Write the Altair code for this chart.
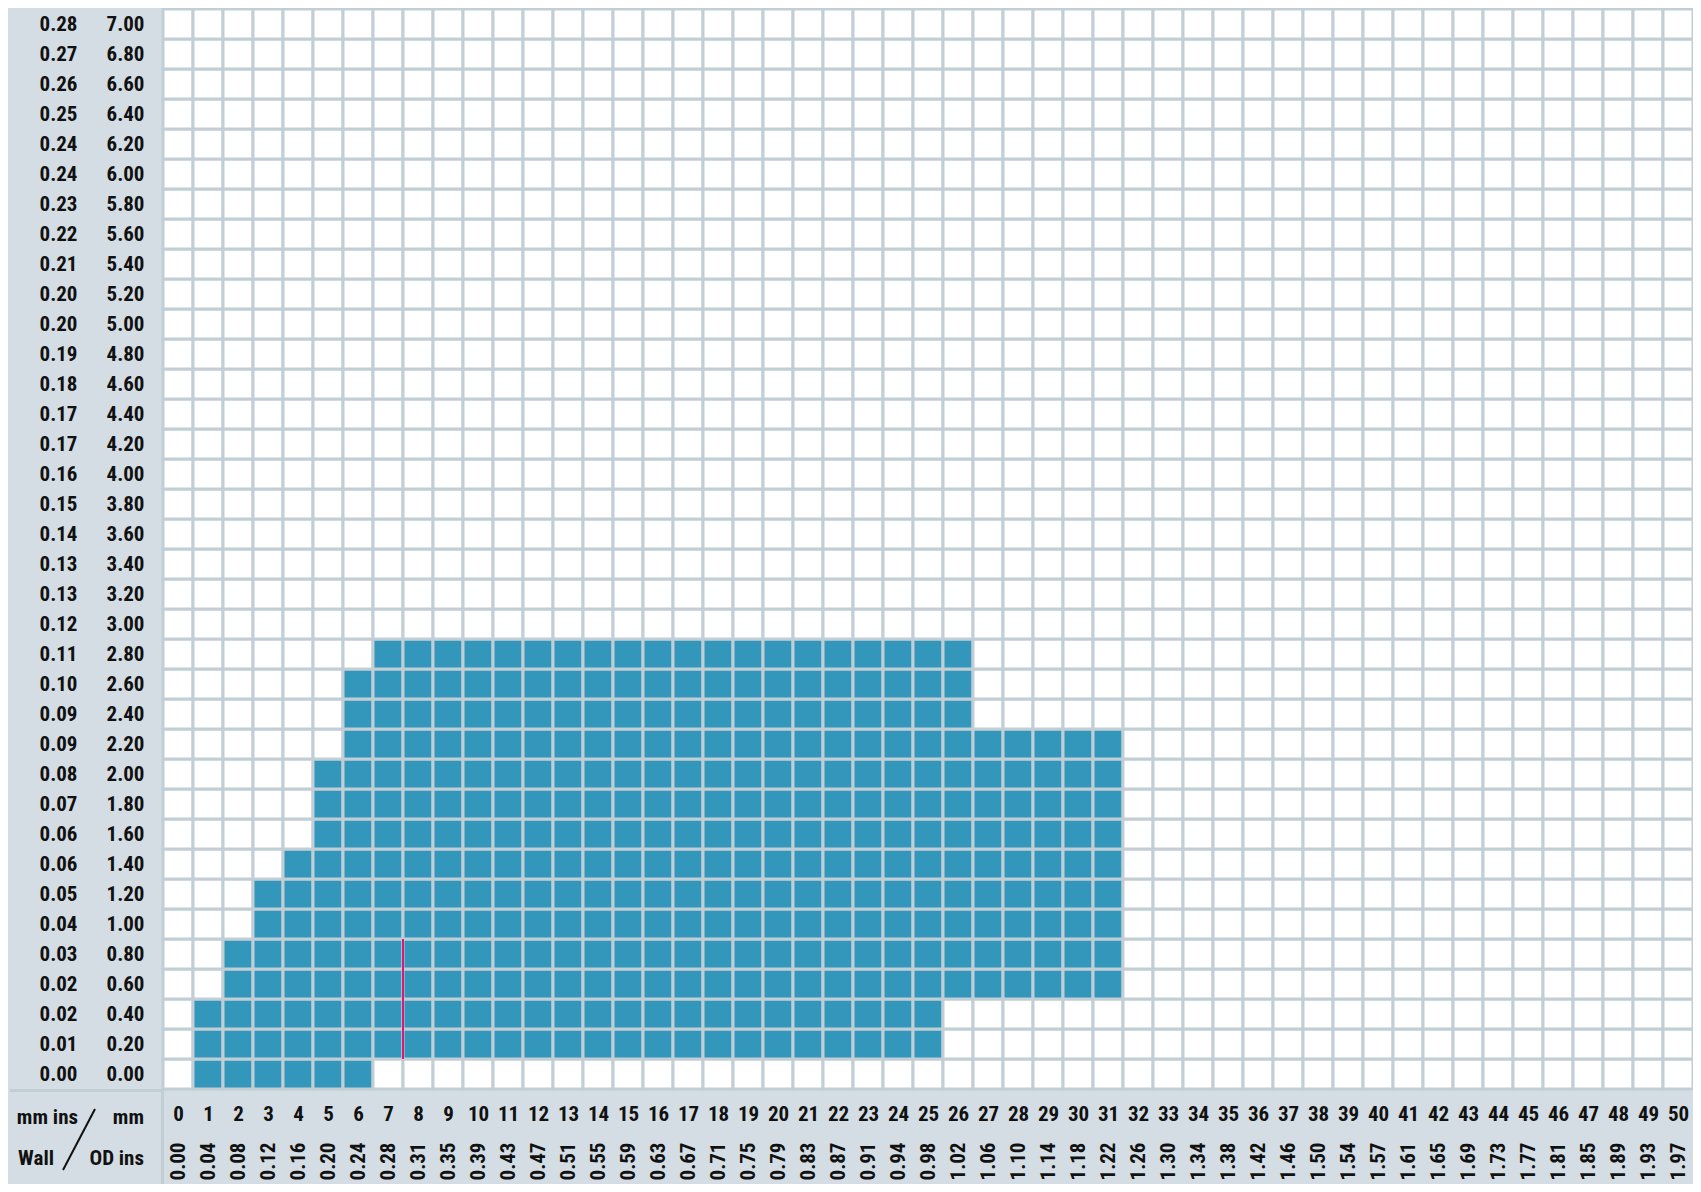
import json
import altair as alt
import pandas as pd

# ---- data ----
od_mm_labels = [str(i) for i in range(51)]
od_ins_labels = ["0.00", "0.04", "0.08", "0.12", "0.16", "0.20", "0.24", "0.28", "0.31", "0.35",
                 "0.39", "0.43", "0.47", "0.51", "0.55", "0.59", "0.63", "0.67", "0.71", "0.75",
                 "0.79", "0.83", "0.87", "0.91", "0.94", "0.98", "1.02", "1.06", "1.10", "1.14",
                 "1.18", "1.22", "1.26", "1.30", "1.34", "1.38", "1.42", "1.46", "1.50", "1.54",
                 "1.57", "1.61", "1.65", "1.69", "1.73", "1.77", "1.81", "1.85", "1.89", "1.93",
                 "1.97"]
# wall labels, bottom to top
wall_mm_labels = ["0.00", "0.20", "0.40", "0.60", "0.80", "1.00", "1.20", "1.40", "1.60", "1.80",
                  "2.00", "2.20", "2.40", "2.60", "2.80", "3.00", "3.20", "3.40", "3.60", "3.80",
                  "4.00", "4.20", "4.40", "4.60", "4.80", "5.00", "5.20", "5.40", "5.60", "5.80",
                  "6.00", "6.20", "6.40", "6.60", "6.80", "7.00"]
wall_ins_labels = ["0.00", "0.01", "0.02", "0.02", "0.03", "0.04", "0.05", "0.06", "0.06", "0.07",
                   "0.08", "0.09", "0.09", "0.10", "0.11", "0.12", "0.13", "0.13", "0.14", "0.15",
                   "0.16", "0.17", "0.17", "0.18", "0.19", "0.20", "0.20", "0.21", "0.22", "0.23",
                   "0.24", "0.24", "0.25", "0.26", "0.27", "0.28"]
# filled range (first OD column, last OD column) for each wall row from the bottom
fill_rows = [0, 1, 2, 3, 4, 5, 6, 7, 8, 9, 10, 11, 12, 13, 14]
fill_first = [1, 1, 1, 2, 2, 3, 3, 4, 5, 5, 5, 6, 6, 6, 7]
fill_last = [6, 25, 25, 31, 31, 31, 31, 31, 31, 31, 31, 31, 26, 26, 26]
# red marker line: OD boundary and wall rows it spans
marker_od = [8]
marker_wall_from = [1]
marker_wall_to = [5]

# ---- build tables ----
ranges = {r: (a, b) for r, a, b in zip(fill_rows, fill_first, fill_last)}
rows = []
for r in range(len(wall_mm_labels)):
    for c in range(len(od_mm_labels)):
        a, b = ranges.get(r, (None, None))
        filled = a is not None and a <= c <= b
        rows.append({"x0": c, "x1": c + 1, "y0": r, "y1": r + 1,
                     "state": "on" if filled else "off"})
cells = pd.DataFrame(rows)
marker = pd.DataFrame({"mx": marker_od, "my0": marker_wall_from, "my1": marker_wall_to})

NC = len(od_mm_labels)
NR = len(wall_mm_labels)
W = 1530
H = 1080

BG = "#d4dde3"
GRID = "#c2ced6"
BLUE = "#3396bb"
TXT = "#111111"
FONT = "Liberation Sans Narrow, Arial Narrow, Roboto Condensed, Liberation Sans, sans-serif"
FS = 21

xs = alt.Scale(domain=[0, NC], nice=False, zero=False)
ys = alt.Scale(domain=[0, NR], nice=False, zero=False)

common = dict(ticks=False, domain=False, grid=False, title=None, labelFont=FONT,
              labelFontSize=FS, labelFontWeight="bold", labelColor=TXT,
              labelOverlap=False, labelFlush=False, labelBound=False)

x_mm_axis = alt.Axis(orient="bottom", values=[i + 0.5 for i in range(NC)],
                     labelExpr=f"{json.dumps(od_mm_labels)}[floor(datum.value)]",
                     labelAngle=0, labelAlign="center", labelBaseline="middle",
                     labelPadding=25, **common)
x_ins_axis = alt.Axis(orient="bottom", values=[i + 0.5 for i in range(NC)],
                      labelExpr=f"{json.dumps(od_ins_labels)}[floor(datum.value)]",
                      labelAngle=270, labelAlign="right", labelBaseline="middle",
                      labelPadding=53, **common)
y_mm_axis = alt.Axis(orient="left", values=[i + 0.5 for i in range(NR)],
                     labelExpr=f"{json.dumps(wall_mm_labels)}[floor(datum.value)]",
                     labelAlign="right", labelBaseline="middle", labelPadding=19, **common)
y_ins_axis = alt.Axis(orient="left", values=[i + 0.5 for i in range(NR)],
                      labelExpr=f"{json.dumps(wall_ins_labels)}[floor(datum.value)]",
                      labelAlign="right", labelBaseline="middle", labelPadding=86, **common)

grid = alt.Chart(cells).mark_rect(stroke=GRID, strokeWidth=3).encode(
    x=alt.X("x0:Q", scale=xs, axis=x_mm_axis),
    x2="x1:Q",
    y=alt.Y("y0:Q", scale=ys, axis=y_mm_axis),
    y2="y1:Q",
    fill=alt.Fill("state:N", scale=alt.Scale(domain=["off", "on"], range=["#ffffff", BLUE]),
                  legend=None),
)

red = alt.Chart(marker).mark_rule(color="#e0157a", strokeWidth=2).encode(
    x=alt.X("mx:Q", scale=xs, axis=x_ins_axis),
    y=alt.Y("my0:Q", scale=ys, axis=y_ins_axis),
    y2="my1:Q",
)

# frame lines around the label corner
hline = alt.Chart(cells.head(1)).mark_rule(color=GRID, strokeWidth=3).encode(
    x=alt.value(-153), x2=alt.value(0), y=alt.value(H + 1.5))
vline = alt.Chart(cells.head(1)).mark_rule(color=GRID, strokeWidth=3).encode(
    x=alt.value(-0.5), y=alt.value(H), y2=alt.value(H + 95))
slash = alt.Chart(cells.head(1)).mark_rule(color=TXT, strokeWidth=2).encode(
    x=alt.value(-68), y=alt.value(H + 20), x2=alt.value(-100), y2=alt.value(H + 81))

corner = pd.DataFrame({
    "t": ["mm  ins", "mm", "Wall", "OD  ins"],
    "px": [-85, -19, -109, -19],
    "py": [H + 29, H + 29, H + 70, H + 70],
})
corner_text = alt.Chart(corner).mark_text(
    font=FONT, fontSize=FS, fontWeight="bold", color=TXT, align="right", baseline="middle"
).encode(
    text="t:N",
    x=alt.X("px:Q", scale=None),
    y=alt.Y("py:Q", scale=None),
)

chart = alt.layer(grid, red, hline, vline, slash, corner_text).resolve_axis(
    x="independent", y="independent"
).properties(
    width=W, height=H,
    autosize=alt.AutoSizeParams(type="none"),
    padding={"left": 155, "top": 1, "right": 0, "bottom": 95},
    background=BG,
).configure_view(stroke=None)

chart.save("out.html", embed_options={"renderer": "svg", "actions": False})
